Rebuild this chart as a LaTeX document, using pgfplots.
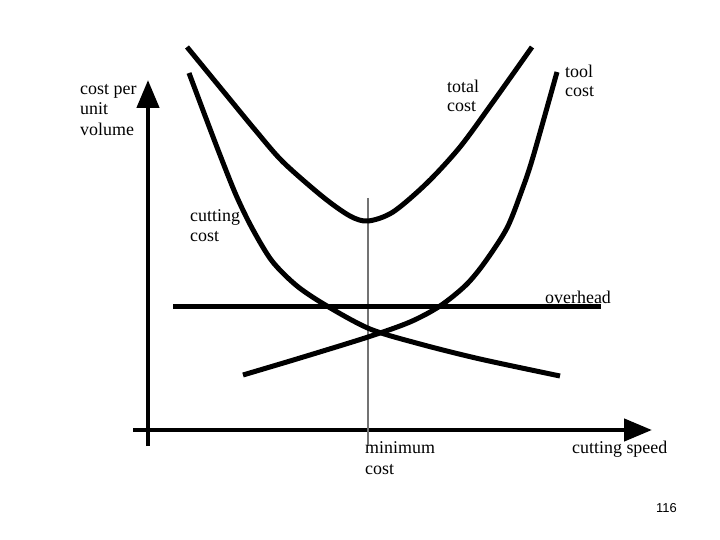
\documentclass[border=0pt]{standalone}
\usepackage{fontspec}
\setmainfont{Liberation Serif}
\newfontfamily\slidesans{Liberation Sans}
\usepackage{pgfplots}
\pgfplotsset{compat=1.18}
\usetikzlibrary{arrows.meta}

\begin{document}
\begin{tikzpicture}
\tikzset{lbl/.style={anchor=base west,inner sep=0pt,font=\fontsize{18}{21}\selectfont}}
\begin{axis}[scale only axis,width=720bp,height=540bp,
  xmin=0,xmax=720,ymin=0,ymax=540,y dir=reverse,
  hide axis,clip=false]
  % frame so the page is exactly the slide
  \addplot[draw=none] coordinates {(0,0)(720,540)};

  % axes
  \addplot[line width=4.5bp,-{Triangle[length=28bp,width=22bp]}] coordinates {(148,446)(148,80)};
  \addplot[line width=4.5bp,-{Triangle[length=28bp,width=22bp]}] coordinates {(133,430)(652,430)};

  % minimum-cost marker
  \addplot[line width=1.6bp,black!55] coordinates {(368,198)(368,446)};

  % overhead
  \addplot[line width=5bp] coordinates {(173,306)(601,306)};

  % total cost
  \addplot[line width=5bp,smooth] coordinates {
    (187,47)(228,97)(256,131)(283,162)(323,197)(350,216)(368,221)
    (393,212)(427,183)(460,147)(493,102)(532,47)};

  % cutting cost
  \addplot[line width=5bp,smooth] coordinates {
    (189,73)(204,113)(220,155)(236,195)(252,228)(272,261)
    (297,286)(327,306)(370,329)(420,344)(480,359)(560,376)};

  % tool cost
  \addplot[line width=5bp,smooth] coordinates {
    (243,375)(300,358)(368,337)(410,322)(440,306)(466,285)
    (485,262)(507,228)(522,190)(533,157)(557,72)};

  % labels
  \node[lbl] at (axis cs:80,95) {cost per};
  \node[lbl] at (axis cs:80,115) {unit};
  \node[lbl] at (axis cs:80,136) {volume};
  \node[lbl] at (axis cs:447,93) {total};
  \node[lbl] at (axis cs:447,112) {cost};
  \node[lbl] at (axis cs:565,78) {tool};
  \node[lbl] at (axis cs:565,97) {cost};
  \node[lbl] at (axis cs:190,222) {cutting};
  \node[lbl] at (axis cs:190,242) {cost};
  \node[lbl] at (axis cs:545,303) {overhead};
  \node[lbl] at (axis cs:365,453) {minimum};
  \node[lbl] at (axis cs:365,474) {cost};
  \node[lbl] at (axis cs:572,453) {cutting speed};
  \node[anchor=base east,inner sep=0pt,font=\slidesans\fontsize{13}{15}\selectfont] at (axis cs:677,512) {116};
\end{axis}
\end{tikzpicture}
\end{document}
